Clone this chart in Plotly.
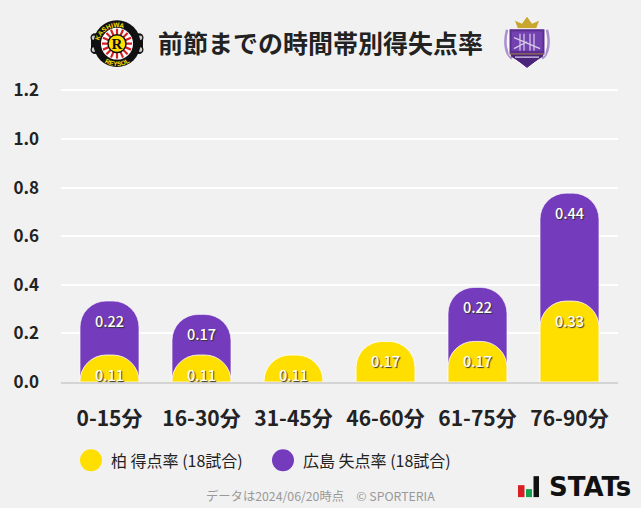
import base64
import plotly.graph_objects as go

categories = ["0-15分", "16-30分", "31-45分", "46-60分", "61-75分", "76-90分"]
scored = [0.111, 0.111, 0.111, 0.167, 0.167, 0.333]
conceded = [0.222, 0.167, 0.0, 0.0, 0.222, 0.444]
y_ticks = [0.0, 0.2, 0.4, 0.6, 0.8, 1.0, 1.2]
title = "前節までの時間帯別得失点率"
legend_home = "柏 得点率 (18試合)"
legend_away = "広島 失点率 (18試合)"
footer = "データは2024/06/20時点　© SPORTERIA"

W, H = 641, 508
Y_MAX = 1.21
L, R, T, B = 61, 618, 87.500, 382.500
FONT = "Noto Sans CJK JP"
YEL, PUR = "#ffdf00", "#743bbc"


def uri(svg):
    return "data:image/svg+xml;base64," + base64.b64encode(svg.encode()).decode()


kashiwa = """<svg xmlns='http://www.w3.org/2000/svg' viewBox='0 0 56 48'>
<defs><path id='t' d='M9.500 26A18.500 18.500 0 0 1 46.500 26'/><path id='b' d='M5.500 24A22.500 22.500 0 0 0 50.500 24'/></defs>
<path d='M2 18H54V30H2Z' fill='#111'/>
<circle cx='6' cy='18' r='4.500' fill='#111'/><circle cx='50' cy='18' r='4.500' fill='#111'/>
<circle cx='6' cy='30' r='4.500' fill='#111'/><circle cx='50' cy='30' r='4.500' fill='#111'/>
<circle cx='5' cy='18' r='2.300' fill='#ccc'/><circle cx='51' cy='18' r='2.300' fill='#ccc'/>
<circle cx='5' cy='30' r='2.300' fill='#ccc'/><circle cx='51' cy='30' r='2.300' fill='#ccc'/>
<circle cx='28' cy='24' r='23.500' fill='#111'/>
<text font-size='6.500' font-weight='bold' font-family='Liberation Sans' fill='#ffe100'><textPath href='#t' startOffset='5'>KASHIWA</textPath></text>
<text font-size='6.500' font-weight='bold' font-family='Liberation Sans' fill='#ffe100'><textPath href='#b' startOffset='22'>REYSOL</textPath></text>
<circle cx='28' cy='24' r='16' fill='#fff'/>
<g stroke='#d81f26' stroke-width='2.200'><path d='M28 9V39M13 24H43M17.400 13.400L38.600 34.600M38.600 13.400L17.400 34.600M22 10L34 38M34 10L22 38M14 18L42 30M14 30L42 18'/></g>
<circle cx='28' cy='24' r='9' fill='#ffe100' stroke='#111' stroke-width='1.500'/>
<text x='28' y='29.500' font-size='15' font-weight='bold' text-anchor='middle' font-family='Liberation Serif' fill='#111'>R</text>
</svg>"""

sanfrecce = """<svg xmlns='http://www.w3.org/2000/svg' viewBox='0 0 48 54'>
<path d='M15 13L12 5L19 8L24 1L29 8L36 5L33 13Z' fill='#c9a62e'/>
<path d='M4 14C1 26 2 38 9 43' stroke='#a98fd0' stroke-width='2.500' fill='none'/>
<path d='M44 14C47 26 46 38 39 43' stroke='#a98fd0' stroke-width='2.500' fill='none'/>
<path d='M6 13H42V39L24 53L6 39Z' fill='#5b2d90' stroke='#fff' stroke-width='1'/>
<path d='M8.500 15.500H39.500V35H8.500Z' fill='#7341b0'/>
<path d='M17 18V35M21 18V35M27 18V35M31 18V35M11 22L37 33M11 33L24 26' stroke='#d9cdea' stroke-width='1.200'/>
<path d='M7 38.500H41' stroke='#c9a62e' stroke-width='1'/>
<path d='M8 39H40V41L24 51L8 41Z' fill='#4a2478'/>
<path d='M12 41.500H36' stroke='#d9cdea' stroke-width='1.300'/>
</svg>"""

stacked_top = [a + b for a, b in zip(scored, conceded)]
has_conceded = [b > 0 for b in conceded]

fig = go.Figure()
fig.add_bar(
    x=[c for c, k in zip(categories, has_conceded) if k],
    y=[t for t, k in zip(stacked_top, has_conceded) if k],
    marker=dict(color=PUR, line=dict(color="rgba(255,255,255,0.55)", width=1)),
    width=0.64, hoverinfo="skip", showlegend=False,
)
fig.add_bar(
    x=categories, y=scored, xaxis="x2", yaxis="y2",
    marker=dict(color=YEL, line=dict(color="rgba(255,255,255,0.8)", width=1)),
    width=0.64, hoverinfo="skip", showlegend=False,
)

label_font = dict(family=FONT, size=14.5, color="#ffffff", weight=500,
                  shadow="1px 1px 1px #333333")
for c, s, d, t in zip(categories, scored, conceded, stacked_top):
    fig.add_annotation(x=c, y=s, xref="x2", yref="y2", text=f"{s:.2f}", showarrow=False,
                       yshift=-19, font=label_font)
    if d > 0:
        fig.add_annotation(x=c, y=t, xref="x2", yref="y2", text=f"{d:.2f}", showarrow=False,
                           yshift=-19, font=label_font)


def px(xp, yp):
    return (xp - L) / (R - L), (B - yp) / (B - T)


def text(xp, yp, s, font, xanchor="center"):
    xt, yt = px(xp, yp)
    fig.add_annotation(xref="paper", yref="paper", x=xt, y=yt, xanchor=xanchor, yanchor="middle",
                       text=s, showarrow=False, font=font)


def logo(src, x0p, y0p, w, h):
    xi, yi = px(x0p, y0p)
    fig.add_layout_image(source=uri(src), xref="paper", yref="paper", xanchor="left", yanchor="top",
                         x=xi, y=yi, sizex=w / (R - L), sizey=h / (B - T),
                         sizing="stretch", layer="above")


text(320.500, 41, f"<b>{title}</b>", dict(family=FONT, size=25, color="#222222"))
logo(kashiwa, 89, 19, 56, 48)
logo(sanfrecce, 503, 15, 48, 54)

for cx, col, txt, tx in [(91, YEL, legend_home, 109), (283, PUR, legend_away, 301)]:
    x0, y0 = px(cx - 11, 472)
    x1, y1 = px(cx + 11, 450)
    fig.add_shape(type="circle", xref="paper", yref="paper", x0=x0, y0=y0, x1=x1, y1=y1,
                  fillcolor=col, line_width=0)
    text(tx, 461, txt, dict(family=FONT, size=16, color="#222222"), "left")

text(320.500, 497, footer, dict(family=FONT, size=12.3, color="#999999"))
text(547, 488, "<b>STATs</b>", dict(family="DejaVu Sans", size=26, color="#111111"), "left")
for x0p, x1p, y0p, col in [(518, 524.500, 486, "#d81f26"), (526, 532, 490, "#12a150"), (533.500, 539, 477, "#111111")]:
    x0, y0 = px(x0p, 498)
    x1, y1 = px(x1p, y0p)
    fig.add_shape(type="rect", xref="paper", yref="paper", x0=x0, y0=y0, x1=x1, y1=y1,
                  fillcolor=col, line_width=0)

x_range = [(L - 109.500) / 92, (R - 109.500) / 92]
fig.update_layout(
    width=W, height=H, autosize=False,
    barmode="overlay", barcornerradius=26,
    paper_bgcolor="#f1f1f1", plot_bgcolor="#f1f1f1",
    margin=dict(l=L, r=W - R, t=T, b=H - B, pad=0),
    font=dict(family=FONT),
    showlegend=False,
    xaxis=dict(type="category", categoryorder="array", categoryarray=categories,
               range=x_range, showgrid=False, zeroline=False,
               showline=True, linecolor="#d4d4d4", linewidth=2, ticks="", ticklabelstandoff=17,
               tickfont=dict(family=FONT, size=21, color="#222222", weight=700)),
    yaxis=dict(range=[0, Y_MAX], tickvals=y_ticks, ticktext=[f"{v:.1f}" for v in y_ticks],
               showgrid=True, gridcolor="#ffffff", gridwidth=2, zeroline=False, ticks="",
               ticklabelstandoff=21,
               tickfont=dict(family=FONT, size=17, color="#222222", weight=700)),
    xaxis2=dict(type="category", categoryorder="array", categoryarray=categories, range=x_range,
                overlaying="x", visible=False),
    yaxis2=dict(range=[0, Y_MAX], overlaying="y", visible=False),
)
fig.write_html("out.html", config={"displayModeBar": False},
               post_script="document.body.style.margin='0';document.body.style.background='#f1f1f1';")
